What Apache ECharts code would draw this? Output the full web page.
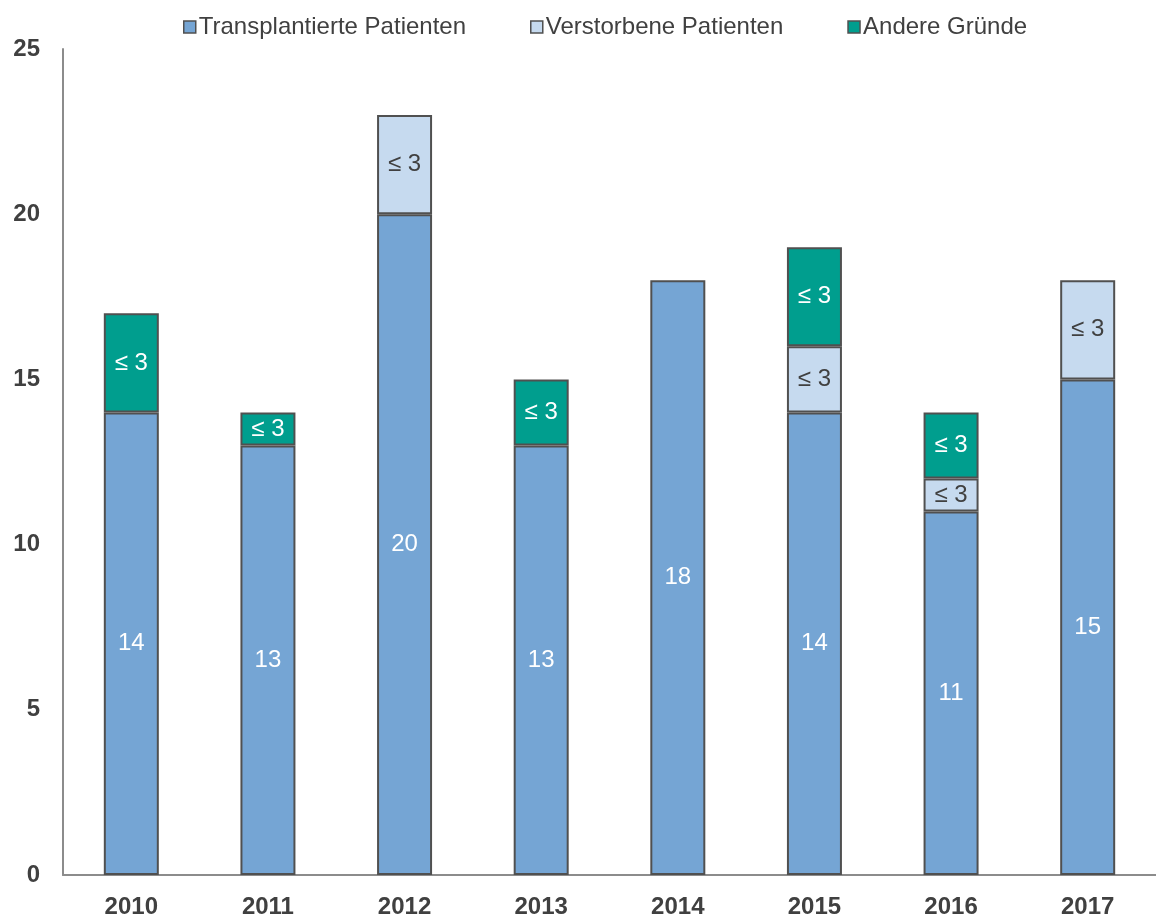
<!DOCTYPE html>
<html><head><meta charset="utf-8">
<script src="https://cdn.jsdelivr.net/npm/echarts@6/dist/echarts.min.js"></script>
<style>html,body{margin:0;padding:0;background:#fff}#c{width:1156px;height:920px}</style>
</head><body><div id="c"></div>
<script>
const categories = ['2010','2011','2012','2013','2014','2015','2016','2017'];
const transplantiert = [14, 13, 20, 13, 18, 14, 11, 15];
const verstorben = [null, null, 3, null, null, 2, 1, 3];
const andere = [3, 1, null, 2, null, 3, 2, null];
const yTicks = [0, 5, 10, 15, 20, 25];

const chart = echarts.init(document.getElementById('c'));
const font = 'Liberation Sans, Arial, sans-serif';
const border = {borderColor: '#505050', borderWidth: 2};
function maskLabel(color){
  return {show: true, position: 'inside', color: color, fontSize: 24, fontFamily: font,
    formatter: p => (p.value == null ? '' : '\u2264 3')};
}
chart.setOption({
  animation: false,
  textStyle: {fontFamily: font},
  legend: {
    top: 10, left: 178, itemWidth: 12, itemHeight: 12, itemGap: 64,
    icon: 'rect',
    itemStyle: {borderColor: '#505050', borderWidth: 1.5},
    textStyle: {fontSize: 24, color: '#404040', fontFamily: font, padding: [0,0,0,-2]},
    data: ['Transplantierte Patienten', 'Verstorbene Patienten', 'Andere Gründe']
  },
  grid: {left: 63, right: -2, top: 49, bottom: 45},
  xAxis: {
    type: 'category', data: categories,
    axisLine: {lineStyle: {color: '#8c8c8c', width: 2}},
    axisTick: {show: false},
    axisLabel: {fontSize: 24, fontWeight: 'bold', color: '#404040', margin: 20, fontFamily: font}
  },
  yAxis: {
    type: 'value', min: 0, max: 25, interval: 5,
    axisLine: {show: true, lineStyle: {color: '#8c8c8c', width: 2}},
    axisTick: {show: false},
    splitLine: {show: false},
    axisLabel: {fontSize: 24, fontWeight: 'bold', color: '#404040', margin: 23, fontFamily: font,
      formatter: v => yTicks.includes(v) ? String(v) : ''}
  },
  series: [
    {name: 'Transplantierte Patienten', type: 'bar', stack: 's', barWidth: 55, data: transplantiert,
      itemStyle: Object.assign({color: '#75A5D4'}, border),
      label: {show: true, position: 'inside', color: '#ffffff', fontSize: 24, fontFamily: font}},
    {name: 'Verstorbene Patienten', type: 'bar', stack: 's', barWidth: 55, data: verstorben,
      itemStyle: Object.assign({color: '#C6DAEF'}, border),
      label: maskLabel('#404040')},
    {name: 'Andere Gründe', type: 'bar', stack: 's', barWidth: 55, data: andere,
      itemStyle: Object.assign({color: '#009E8E'}, border),
      label: maskLabel('#ffffff')}
  ]
});
</script></body></html>
